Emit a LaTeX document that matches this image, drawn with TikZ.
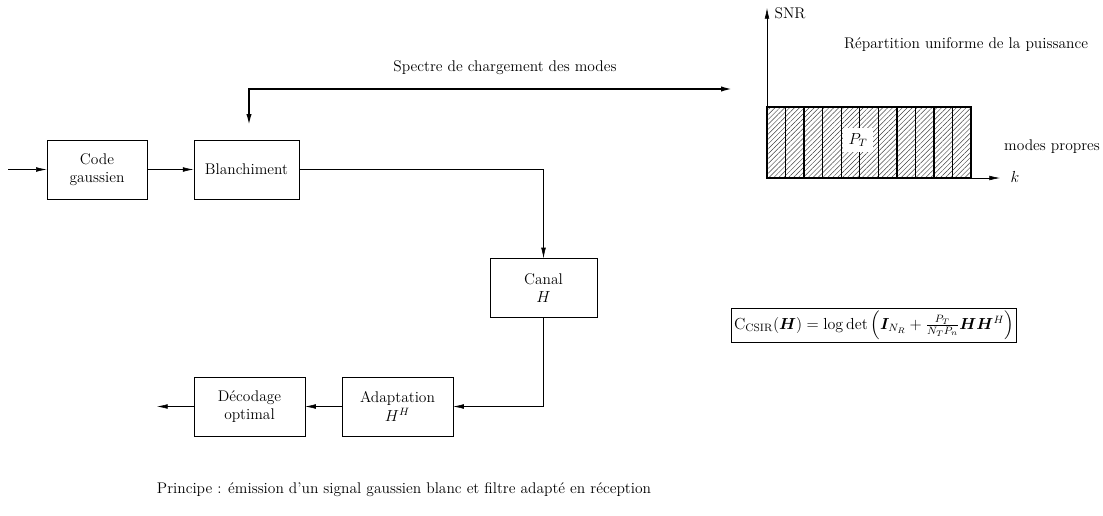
\documentclass[tikz,border=0pt]{standalone}
\usepackage{amsmath,bm}
\usetikzlibrary{patterns.meta, calc, arrows.meta}

\tikzset{
  bloc/.style={draw, minimum height=44pt, align=center, inner sep=2pt},
  fleche/.style={-{Latex[length=8pt, width=3.5pt]}},
  mode/.style={draw, line width=1pt,
    pattern={Lines[angle=45, distance=2.6pt, line width=0.35pt]}, pattern color=black!75},
}

\begin{document}
\begin{tikzpicture}[x=0.75pt, y=-0.75pt, font=\fontsize{11.6}{14}\selectfont]
    \useasboundingbox (0,0) rectangle (1103,515);

    % Chaine d'emission
    \node[bloc, minimum width=75pt] (code) at (97,169.5) {Code\\gaussien};
    \node[bloc, minimum width=79pt] (blanc) at (246.5,169.5) {Blanchiment};
    \node[bloc, minimum width=80pt] (canal) at (543.5,288) {Canal\\$H$};

    % Chaine de reception
    \node[bloc, minimum width=83pt] (adapt) at (397.5,406.5) {Adaptation\\$H^H$};
    \node[bloc, minimum width=83pt] (decod) at (249.5,406.5) {D\'ecodage\\optimal};

    \coordinate (entree) at (8,169.5);
    \coordinate (sortie) at (157,406.5);

    \draw[fleche] (entree) -- (code);
    \draw[fleche] (code) -- (blanc);
    \draw[fleche] (blanc.east) -| (canal.north);
    \draw[fleche] (canal.south) |- (adapt.east);
    \draw[fleche] (adapt) -- (decod);
    \draw[fleche] (decod) -- (sortie);

    % Retour du spectre
    \coordinate (retour) at (249,126);
    \coordinate (spectre) at (733,89);
    \draw[line width=1.5pt, {Latex[length=9pt, width=4pt]}-{Latex[length=9pt, width=4pt]}] (retour) |- (spectre);
    \node (chargement) at (505,68) {Spectre de chargement des modes};

    % Axes
    \coordinate (O) at (767,178);
    \coordinate (snrmax) at (767,8);
    \coordinate (kmax) at (1000,178);
    \draw[fleche] (O) -- (snrmax);
    \draw[fleche] (O) -- (kmax);
    \node[anchor=west] (snr) at (770,13) {SNR};
    \node (k) at (1015,177) {$k$};

    % Modes propres
    \foreach \i in {0,...,10}
        \draw[mode] ($(O)+(\i*18.55,0)$) rectangle ++(18.55,-71);
    \node[fill=white, inner sep=4pt] (pt) at (858,140) {$P_T$};
    \node (repartition) at (966,45) {R\'epartition uniforme de la puissance};
    \node (modes) at (1052,147) {modes propres};

    % Capacite
    \node[draw, inner sep=2pt] (capa) at (874,325)
        {$\mathrm{C}_{\mathrm{CSIR}}(\bm{H}) = \log\det\left(\bm{I}_{N_R}+\frac{P_T}{N_T P_n}\bm{H}\bm{H}^H\right)$};

    % Legende
    \node (principe) at (404,490) {Principe : \'emission d'un signal gaussien blanc et filtre adapt\'e en r\'eception};
\end{tikzpicture}
\end{document}
